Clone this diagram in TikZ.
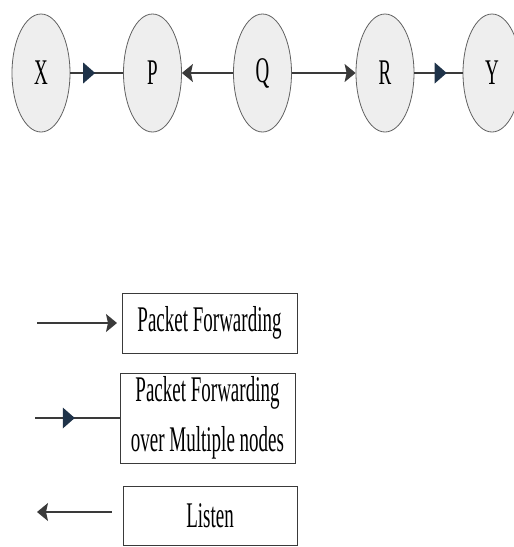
\documentclass[tikz,border=0pt]{standalone}
\usepackage{fontspec}
\setmainfont{Liberation Serif}
\usetikzlibrary{shapes.geometric,arrows.meta,decorations.markings}
\definecolor{linegray}{HTML}{3A3A3A}
\definecolor{navy}{HTML}{1F3349}
\definecolor{ellfill}{HTML}{EEEEEE}
\newcommand{\tallT}[1]{\scalebox{1}[1.9]{#1}}
\tikzset{
  nodeell/.style={ellipse, draw=linegray!80, line width=0.8pt, fill=ellfill,
    minimum width=58pt, minimum height=118pt, inner sep=0pt, font=\fontsize{19}{22}\selectfont},
  fwd/.style={draw=linegray, line width=1.4pt, -{Stealth[length=11pt,width=18pt,inset=2pt]}},
  lis/.style={draw=linegray, line width=1.4pt, {Stealth[length=11pt,width=18pt,inset=2pt]}-},
  multi/.style={draw=linegray, line width=1.4pt, postaction={decorate},
    decoration={markings, mark=at position #1 with {\fill[navy] (0,0) -- (-12pt,10.5pt) -- (-12pt,-10.5pt) -- cycle;}}},
  legbox/.style={draw=linegray, line width=0.8pt, inner sep=0pt, font=\fontsize{19}{25}\selectfont, align=center},
}
\begin{document}
\begin{tikzpicture}[x=1pt,y=-1pt]
\useasboundingbox (0,0) rectangle (514,547);
\node[nodeell] (X) at (41,73) {\tallT{X}};
\node[nodeell] (P) at (152.5,73) {\tallT{P}};
\node[nodeell] (Q) at (262.5,73) {\tallT{Q}};
\node[nodeell] (R) at (385,73) {\tallT{R}};
\node[nodeell] (Y) at (492,73) {\tallT{Y}};
\draw[multi=0.47] (X) -- (P);
\draw[fwd] (Q) -- (P);
\draw[fwd] (Q) -- (R);
\draw[multi=0.67] (R) -- (Y);
% legend
\node[legbox, minimum width=175pt, minimum height=60pt] (B1) at (209.5,323) {\tallT{Packet Forwarding}};
\node[legbox, minimum width=175pt, minimum height=90pt] (B2) at (207.5,418) {\tallT{Packet Forwarding}\\[16pt]\tallT{over Multiple nodes}};
\node[legbox, minimum width=174pt, minimum height=59pt] (B3) at (210,515.5) {\tallT{Listen}};
\coordinate (a1s) at (37,323);
\coordinate (a1e) at (117,323);
\coordinate (a2s) at (35,418);
\coordinate (a3s) at (37,512);
\coordinate (a3e) at (112,512);
\draw[fwd] (a1s) -- (a1e);
\draw[multi=0.47] (a2s) -- (B2.west);
\draw[lis] (a3s) -- (a3e);
\end{tikzpicture}
\end{document}
